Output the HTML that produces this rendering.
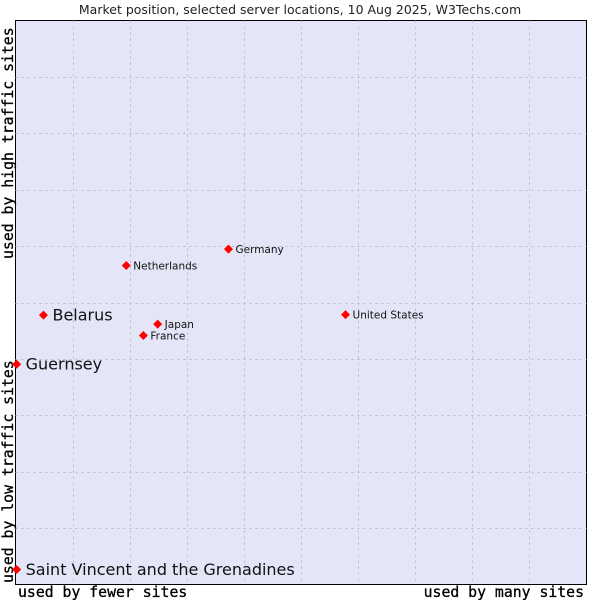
<!DOCTYPE html>
<html><head><meta charset="utf-8"><style>
body{margin:0;background:#fff;width:600px;height:600px;overflow:hidden}
svg text{font-family:"DejaVu Sans","Liberation Sans",sans-serif}
.mono{font-family:"DejaVu Sans Mono","Liberation Mono",monospace}
</style></head><body>
<svg id="chart" width="600" height="600" xmlns="http://www.w3.org/2000/svg">
<rect x="15.5" y="20.5" width="571" height="564" fill="#e4e6f8" stroke="#000" stroke-width="1"/>
<g id="grid"></g>
<text x="300" y="14" text-anchor="middle" font-size="12.5" fill="#222">Market position, selected server locations, 10 Aug 2025, W3Techs.com</text>
<text class="mono" transform="translate(13,259) rotate(-90)" font-size="14.8" fill="#000" stroke="#000" stroke-width="0.3">used by high traffic sites</text>
<text class="mono" transform="translate(13,583) rotate(-90)" font-size="14.8" fill="#000" stroke="#000" stroke-width="0.3">used by low traffic sites</text>
<text class="mono" x="18" y="597" font-size="14.8" fill="#000" stroke="#000" stroke-width="0.3">used by fewer sites</text>
<text class="mono" x="584" y="597" text-anchor="end" font-size="14.8" fill="#000" stroke="#000" stroke-width="0.3">used by many sites</text>
<g id="points"></g>
</svg>
<script>
const labels=["Belarus","Guernsey","Saint Vincent and the Grenadines","Netherlands","Germany","Japan","France","United States"];
const xValues=[4.9,0.2,0.2,19.4,37.3,24.9,22.4,57.8];
const yValues=[47.9,39.2,2.8,56.7,59.6,46.3,44.3,48.0];
const highlighted=[true,true,true,false,false,false,false,false];
const L=15.5,T=20.5,W=571,H=564;
const sx=v=>L+v/100*W, sy=v=>T+H-v/100*H;
const NS="http://www.w3.org/2000/svg";
const g=document.getElementById('grid');
for(let i=1;i<10;i++){
 const x=Math.round(L+i*57.1)+0.5,y=Math.round(T+i*56.4)+0.5;
 const v=document.createElementNS(NS,'line');
 
 
 v.setAttribute('x1',x);v.setAttribute('x2',x);v.setAttribute('y1',T);v.setAttribute('y2',T+H);
 v.setAttribute('stroke','#bbb');v.setAttribute('stroke-dasharray','2,4');g.appendChild(v);
 const h=document.createElementNS(NS,'line');
 
 
 h.setAttribute('x1',L);h.setAttribute('x2',L+W);h.setAttribute('y1',y);h.setAttribute('y2',y);
 h.setAttribute('stroke','#bbb');h.setAttribute('stroke-dasharray','2,4');g.appendChild(h);
}
const p=document.getElementById('points');
labels.forEach((lab,i)=>{
 const x=sx(xValues[i]),y=sy(yValues[i])+0.8;
 const d=document.createElementNS(NS,'path');
 
 
 d.setAttribute('d',`M${x} ${y-4.5}L${x+4.5} ${y}L${x} ${y+4.5}L${x-4.5} ${y}Z`);
 d.setAttribute('fill','#f00');p.appendChild(d);
 const t=document.createElementNS(NS,'text');
 
 
 const big=highlighted[i];
 t.setAttribute('x',x+(big?9:7));t.setAttribute('y',y+(big?5.5:4));
 t.setAttribute('font-size',big?16:10.5);t.setAttribute('fill','#111');
 t.textContent=lab;p.appendChild(t);
});
</script>
</body></html>
